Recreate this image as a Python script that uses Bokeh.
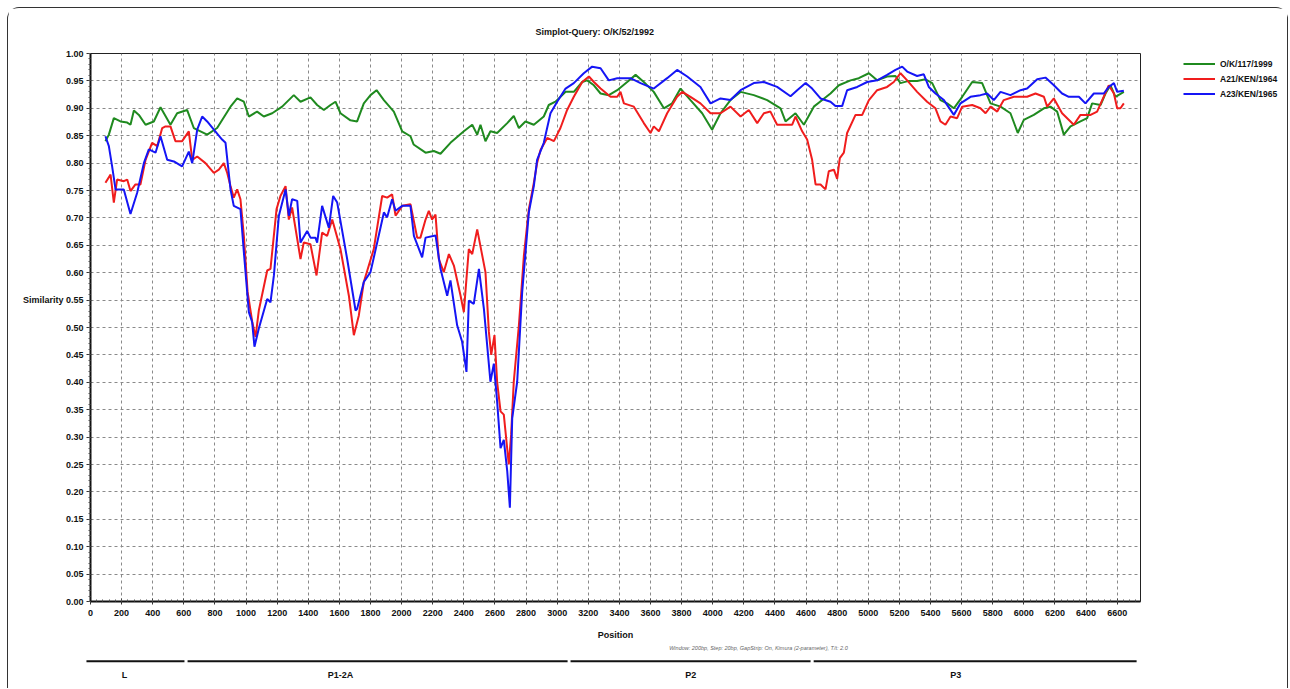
import numpy as np
from bokeh.plotting import figure
from bokeh.models import Range1d, FixedTicker, NumeralTickFormatter, Legend, LegendItem
from bokeh.layouts import column, row
from bokeh.embed import file_html
from bokeh.resources import INLINE
from bokeh.core.properties import value

FONT = "Liberation Sans"

# ---------------- data ----------------
green_pos = [96, 118, 150, 193, 236, 257, 279, 311, 354, 407, 450, 514, 557, 621, 664, 750, 814, 900, 943, 986,
             1018, 1071, 1114, 1168, 1232, 1307, 1350, 1414, 1457, 1500, 1543, 1575, 1607, 1671, 1714, 1757, 1800,
             1839, 1886, 1950, 2004, 2057, 2077, 2154, 2207, 2250, 2314, 2400, 2454, 2486, 2507, 2539, 2571, 2614,
             2679, 2721, 2754, 2796, 2850, 2914, 2946, 2989, 3054, 3107, 3161, 3193, 3236, 3279, 3332, 3386, 3450,
             3504, 3557, 3621, 3686, 3739, 3793, 3857, 3932, 3996, 4050, 4114, 4179, 4264, 4350, 4436, 4468, 4532,
             4586, 4650, 4704, 4757, 4811, 4886, 4939, 5004, 5057, 5121, 5175, 5207, 5260, 5314, 5368, 5411, 5464,
             5507, 5550, 5604, 5668, 5732, 5786, 5850, 5914, 5961, 6000, 6064, 6129, 6171, 6214, 6257, 6300, 6364,
             6407, 6439, 6493, 6525, 6557, 6589, 6643]
green_sim = [.840, .852, .882, .876, .874, .870, .896, .888, .870, .876, .902, .870, .891, .897, .864, .852, .864, .903, .918, .912,
             .885, .894, .885, .891, .903, .924, .912, .920, .906, .897, .906, .912, .891, .878, .876, .909, .924,
             .933, .915, .894, .858, .849, .834, .819, .822, .817, .837, .858, .870, .852, .870, .840, .858, .855,
             .873, .886, .864, .876, .870, .885, .906, .912, .930, .930, .948, .951, .942, .927, .924, .933, .948,
             .961, .948, .930, .900, .909, .936, .915, .891, .861, .891, .915, .930, .924, .915, .900, .876, .891,
             .870, .903, .915, .927, .942, .951, .955, .964, .951, .958, .959, .946, .950, .950, .953, .946, .915,
             .909, .900, .921, .948, .946, .909, .903, .891, .855, .879, .888, .900, .903, .894, .852, .867, .876,
             .882, .909, .906, .927, .942, .921, .930]

red_pos = [96, 129, 150, 171, 214, 236, 257, 289, 321, 354, 396, 429, 461, 482, 514, 546, 589, 632, 654, 686, 739,
           793, 825, 857, 879, 900, 921, 943, 964, 986, 1010, 1040, 1061, 1082, 1136, 1157, 1196, 1221, 1254, 1275,
           1296, 1350, 1371, 1414, 1453, 1489, 1521, 1554, 1607, 1661, 1693, 1725, 1757, 1821, 1875, 1907, 1939,
           1961, 2004, 2057, 2100, 2121, 2154, 2175, 2196, 2218, 2239, 2271, 2304, 2336, 2379, 2400, 2432, 2454,
           2486, 2539, 2561, 2576, 2597, 2614, 2636, 2657, 2689, 2704, 2721, 2754, 2786, 2818, 2850, 2871, 2893,
           2936, 2979, 3021, 3064, 3107, 3161, 3204, 3236, 3279, 3343, 3386, 3407, 3429, 3493, 3557, 3600, 3621,
           3654, 3707, 3771, 3804, 3857, 3921, 3986, 4050, 4114, 4179, 4232, 4286, 4329, 4371, 4414, 4479, 4511,
           4532, 4575, 4607, 4639, 4661, 4693, 4725, 4746, 4779, 4800, 4817, 4843, 4864, 4918, 4961, 5004, 5057,
           5121, 5164, 5207, 5250, 5314, 5378, 5432, 5464, 5496, 5529, 5571, 5604, 5668, 5721, 5754, 5786, 5829,
           5871, 5936, 6021, 6075, 6129, 6150, 6193, 6246, 6321, 6364, 6429, 6471, 6504, 6546, 6579, 6600, 6621,
           6643]
red_sim = [.764, .779, .728, .770, .767, .770, .749, .761, .761, .806, .837, .831, .864, .867, .867, .840, .840, .858, .806, .812, .800,
           .782, .788, .800, .782, .758, .737, .752, .734, .667, .565, .510, .483, .531, .604, .607, .716, .740, .758, .697,
           .719, .625, .655, .652, .595, .673, .667, .697, .643, .558, .486, .522, .583, .643, .740, .737, .743,
           .704, .722, .725, .664, .664, .697, .713, .697, .706, .625, .601, .634, .613, .558, .528, .643, .634,
           .679, .601, .492, .450, .486, .401, .347, .341, .250, .304, .401, .504, .631, .716, .764, .800, .824,
           .846, .840, .864, .897, .921, .948, .958, .948, .936, .921, .921, .930, .909, .903, .873, .855, .867,
           .858, .891, .921, .930, .921, .909, .891, .891, .903, .885, .897, .873, .891, .894, .870, .870, .870,
           .885, .858, .843, .806, .761, .761, .752, .785, .788, .771, .809, .819, .855, .888, .888, .915, .933,
           .939, .948, .964, .951, .930, .912, .900, .876, .870, .885, .882, .903, .906, .900, .891, .903, .894,
           .915, .921, .921, .927, .921, .903, .918, .891, .870, .888, .888, .894, .915, .942, .927, .900, .900,
           .909]

blue_pos = [96, 118, 139, 161, 214, 257, 300, 343, 375, 418, 450, 493, 536, 589, 632, 654, 686, 718, 750, 793, 846,
            868, 900, 921, 964, 986, 1018, 1039, 1054, 1082, 1136, 1157, 1179, 1211, 1254, 1275, 1296, 1329, 1350,
            1393, 1414, 1446, 1457, 1489, 1532, 1560, 1586, 1650, 1704, 1714, 1757, 1800, 1843, 1886, 1907, 1939,
            1961, 2004, 2057, 2079, 2132, 2154, 2218, 2250, 2293, 2314, 2357, 2389, 2417, 2432, 2464, 2497, 2529,
            2571, 2593, 2614, 2636, 2657, 2679, 2696, 2711, 2743, 2775, 2818, 2850, 2871, 2914, 2957, 3000, 3054,
            3107, 3171, 3225, 3279, 3332, 3386, 3471, 3536, 3621, 3707, 3771, 3836, 3921, 3986, 4050, 4114, 4179,
            4264, 4329, 4414, 4500, 4543, 4597, 4639, 4693, 4757, 4789, 4832, 4864, 4929, 4993, 5057, 5121, 5175,
            5218, 5250, 5314, 5357, 5389, 5432, 5486, 5550, 5593, 5657, 5721, 5764, 5807, 5850, 5914, 5979, 6021,
            6086, 6139, 6193, 6246, 6289, 6354, 6396, 6450, 6514, 6546, 6579, 6600, 6643]
blue_sim = [.849, .831, .794, .752, .752, .707, .746, .800, .825, .819, .849, .806, .803, .794, .821, .800, .861, .885, .876, .861, .843,
            .837, .752, .722, .716, .637, .528, .510, .465, .498, .552, .546, .595, .704, .752, .704, .734, .731, .655,
            .676, .664, .664, .655, .722, .682, .740, .728, .625, .531, .534, .583, .601, .655, .710, .701, .734,
            .713, .722, .722, .667, .628, .664, .668, .607, .558, .586, .504, .474, .419, .549, .543, .607, .534,
            .401, .434, .365, .280, .295, .238, .171, .334, .401, .564, .710, .758, .806, .837, .891, .912, .936,
            .946, .964, .976, .973, .951, .955, .955, .946, .936, .955, .970, .958, .939, .909, .918, .915, .933,
            .946, .948, .939, .922, .933, .946, .936, .918, .912, .904, .904, .933, .939, .948, .951, .961, .970,
            .976, .967, .959, .962, .939, .927, .915, .888, .909, .921, .924, .927, .915, .930, .924, .933, .936,
            .953, .956, .942, .927, .921, .921, .909, .927, .927, .939, .946, .930, .932]

series_names = ["O/K/117/1999", "A21/KEN/1964", "A23/KEN/1965"]
series_colors = ["#1f8a1f", "#f01d1d", "#1515f5"]

x_ticks = list(range(0, 6601, 200))
y_ticks = [round(i * 0.05, 2) for i in range(21)]

region_names = ["L", "P1-2A", "P2", "P3"]
region_start = [-26, 624, 3086, 4649]
region_end = [604, 3067, 4629, 6725]
region_label_pos = [219, 1607, 3858, 5562]

title_text = "Simplot-Query: O/K/52/1992"
y_label = "Similarity"
x_label = "Position"
footnote = "Window: 200bp, Step: 20bp, GapStrip: On, Kimura (2-parameter), T/t: 2.0"
footnote_pos = [4294]

# ---------------- main figure ----------------
X_MAX = 6750
p = figure(width=1142, height=634, x_range=Range1d(0, X_MAX), y_range=Range1d(0, 1),
           output_backend="svg", toolbar_location=None,
           min_border_left=82, min_border_right=10, min_border_top=42, min_border_bottom=41)
p.outline_line_color = "#222222"
p.outline_line_width = 1
p.background_fill_color = "white"
p.border_fill_color = "white"

p.title.text = title_text
p.title.align = "left"
p.title.offset = 445
p.title.standoff = 33
p.title.text_font = FONT
p.title.text_font_style = "bold"
p.title.text_font_size = "9px"
p.title.text_color = "#111111"

p.xgrid.ticker = FixedTicker(ticks=x_ticks[1:])
p.ygrid.ticker = FixedTicker(ticks=y_ticks[1:-1])
for g in (p.xgrid, p.ygrid):
    g.grid_line_color = "#8a8a8a"
    g.grid_line_dash = "3 3"
    g.grid_line_width = 1

xa = p.xaxis[0]
xa.ticker = FixedTicker(ticks=x_ticks, minor_ticks=list(range(0, X_MAX, 40)))
xa.formatter = NumeralTickFormatter(format="0")
ya = p.yaxis[0]
ya.ticker = FixedTicker(ticks=y_ticks, minor_ticks=[round(i * 0.01, 2) for i in range(101)])
ya.formatter = NumeralTickFormatter(format="0.00")
ya.major_label_overrides = {0.55: y_label + " 0.55"}
for ax in (xa, ya):
    ax.axis_line_width = 2
    ax.axis_line_color = "#111111"
    ax.major_tick_line_color = "#333333"
    ax.minor_tick_line_color = "#555555"
    ax.major_label_text_font = FONT
    ax.major_label_text_font_style = "bold"
    ax.major_label_text_font_size = "9px"
    ax.major_label_text_color = "#111111"
xa.major_tick_in = 3
xa.major_tick_out = 3
xa.minor_tick_in = 2
xa.minor_tick_out = 0
xa.major_label_standoff = 5
xa.axis_label = x_label
xa.axis_label_text_font = FONT
xa.axis_label_text_font_style = "bold"
xa.axis_label_text_font_size = "9px"
xa.axis_label_text_color = "#111111"
xa.axis_label_standoff = 11
ya.major_tick_in = 0
ya.major_tick_out = 4
ya.minor_tick_in = 0
ya.minor_tick_out = 2
ya.major_label_standoff = 3

p.line(green_pos, green_sim, line_color=series_colors[0], line_width=2)
p.line(red_pos, red_sim, line_color=series_colors[1], line_width=2)
p.line(blue_pos, blue_sim, line_color=series_colors[2], line_width=2)

# ---------------- legend panel (to the right of the plot frame) ----------------
pleg = figure(width=137, height=634, x_range=Range1d(0, 1), y_range=Range1d(0, 1),
              output_backend="svg", toolbar_location=None, x_axis_location=None, y_axis_location=None,
              min_border_left=0, min_border_right=0, min_border_top=0, min_border_bottom=0)
pleg.outline_line_color = None
pleg.xgrid.visible = False
pleg.ygrid.visible = False
nan_pair = np.array([np.nan, np.nan])
leg_renderers = [pleg.line(x=nan_pair, y=nan_pair, line_color=c, line_width=2) for c in series_colors]
legend = Legend(items=[LegendItem(label=n, renderers=[r]) for n, r in zip(series_names, leg_renderers)],
                location=(33, 500), padding=0, margin=0, spacing=0,
                glyph_width=32, glyph_height=15, label_height=15, label_standoff=5,
                border_line_color=None, background_fill_alpha=0,
                label_text_font=FONT, label_text_font_style="bold", label_text_font_size="8.5px",
                label_text_color="#111111")
pleg.add_layout(legend)

# ---------------- footnote + genome region bar ----------------
p2 = figure(width=1279, height=46, x_range=Range1d(-64.3, 6814.3), y_range=Range1d(0, 1),
            output_backend="svg", toolbar_location=None, x_axis_location=None, y_axis_location=None,
            min_border_left=72, min_border_right=137, min_border_top=0, min_border_bottom=0)
p2.outline_line_color = None
p2.xgrid.visible = False
p2.ygrid.visible = False
p2.text(x=footnote_pos, y=[0.87], text=[footnote], text_font=value(FONT), text_font_style="italic",
        text_font_size="5.5px", text_align="center", text_baseline="middle", text_color="#666666")
p2.segment(x0=region_start, y0=[0.59] * len(region_start), x1=region_end, y1=[0.59] * len(region_end),
           line_color="#111111", line_width=2)
p2.text(x=region_label_pos, y=[0.30] * len(region_label_pos), text=region_names,
        text_font=value(FONT), text_font_style="bold", text_font_size="9px",
        text_align="center", text_baseline="middle", text_color="#111111")

layout = column(row(p, pleg, spacing=0), p2, spacing=0,
                styles={"margin-left": "7px", "margin-top": "7px",
                        "border-top": "1px solid #333", "border-left": "1px solid #333",
                        "border-right": "1px solid #333", "border-top-left-radius": "12px",
                        "border-top-right-radius": "12px"})

open("out.html", "w").write(file_html(layout, INLINE))
